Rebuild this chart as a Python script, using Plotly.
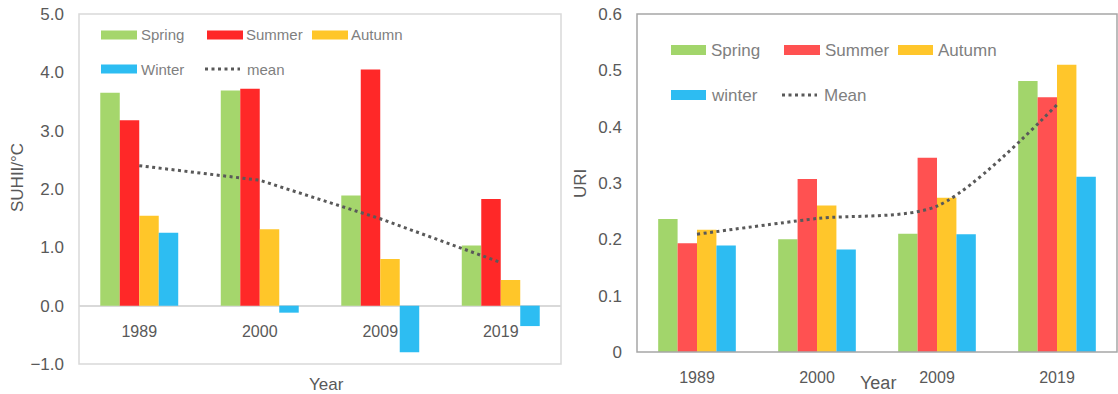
import plotly.graph_objects as go

# ---- data ----
years = ["1989", "2000", "2009", "2019"]

suhii_spring = [3.65, 3.69, 1.89, 1.03]
suhii_summer = [3.18, 3.72, 4.05, 1.83]
suhii_autumn = [1.54, 1.31, 0.80, 0.44]
suhii_winter = [1.25, -0.12, -0.80, -0.35]
suhii_mean = [2.40, 2.15, 1.49, 0.74]

uri_spring = [0.236, 0.200, 0.210, 0.481]
uri_summer = [0.193, 0.307, 0.345, 0.452]
uri_autumn = [0.217, 0.260, 0.274, 0.510]
uri_winter = [0.189, 0.182, 0.209, 0.311]
uri_mean = [0.209, 0.237, 0.259, 0.439]

W, H = 1118, 394
FONT = "Liberation Sans, Arial, sans-serif"
TXT = "#595959"
LEG = "#7f7f7f"
MEAN_C = "#595959"

left_cols = {"Spring": "#A5D66C", "Summer": "#FF2828", "Autumn": "#FFC629", "Winter": "#2DBDF2"}
right_cols = {"Spring": "#A2D56B", "Summer": "#FF5151", "Autumn": "#FFC62B", "winter": "#2DBCF2"}


def px_x(p):
    return p / W


def px_y(p):
    return 1 - p / H


fig = go.Figure()

# left chart: SUHII
for name, vals in zip(["Spring", "Summer", "Autumn", "Winter"],
                      [suhii_spring, suhii_summer, suhii_autumn, suhii_winter]):
    fig.add_trace(go.Bar(x=years, y=vals, name=name, marker_color=left_cols[name],
                         marker_line_width=0, xaxis="x", yaxis="y", showlegend=False))
fig.add_trace(go.Scatter(x=years, y=suhii_mean, name="mean", mode="lines",
                         line=dict(color=MEAN_C, width=3, dash="3px,3.5px"),
                         xaxis="x", yaxis="y", showlegend=False))

# right chart: URI
for name, vals in zip(["Spring", "Summer", "Autumn", "winter"],
                      [uri_spring, uri_summer, uri_autumn, uri_winter]):
    fig.add_trace(go.Bar(x=years, y=vals, name=name, marker_color=right_cols[name],
                         marker_line_width=0, xaxis="x2", yaxis="y2", showlegend=False))
fig.add_trace(go.Scatter(x=years, y=uri_mean, name="Mean", mode="lines",
                         line=dict(color=MEAN_C, width=3, dash="3px,3.5px",
                                   shape="spline", smoothing=0.8),
                         xaxis="x2", yaxis="y2", showlegend=False))

L_X0, L_X1, L_Y0, L_Y1 = 79, 561, 14, 364
R_X0, R_X1, R_Y0, R_Y1 = 637, 1117, 14, 352
zero_pos = px_y(L_Y1 - (0 - (-1)) / 6 * (L_Y1 - L_Y0))

fig.update_layout(
    width=W, height=H, autosize=False,
    margin=dict(l=0, r=0, t=0, b=0, pad=0, autoexpand=False),
    paper_bgcolor="white", plot_bgcolor="white",
    barmode="group", bargap=0.353, bargroupgap=0,
    font=dict(family=FONT, color=TXT, size=16),
    showlegend=False,
    xaxis=dict(domain=[px_x(L_X0), px_x(L_X1)], anchor="free", position=zero_pos,
               showline=False, showgrid=False, ticks="", zeroline=False,
               tickfont=dict(size=16, color=TXT), ticklabelstandoff=14,
               automargin=False, fixedrange=True),
    yaxis=dict(domain=[px_y(L_Y1), px_y(L_Y0)], anchor="x", range=[-1, 5], dtick=1,
               tickformat=".1f", showgrid=False, showline=False, ticks="",
               zeroline=True, zerolinecolor="#D9D9D9", zerolinewidth=1.5,
               tickfont=dict(size=17, color=TXT), ticklabelstandoff=14,
               automargin=False),
    xaxis2=dict(domain=[px_x(R_X0), px_x(R_X1)], anchor="y2",
                showline=False, showgrid=False, ticks="", zeroline=False,
                tickfont=dict(size=16, color=TXT), ticklabelstandoff=14,
                automargin=False),
    yaxis2=dict(domain=[px_y(R_Y1), px_y(R_Y0)], anchor="x2", range=[0, 0.6], dtick=0.1,
                showgrid=False, showline=False, ticks="", zeroline=False,
                tickfont=dict(size=17, color=TXT), ticklabelstandoff=14,
                automargin=False),
)

# plot frames
fig.add_shape(type="rect", xref="x domain", yref="y domain", x0=0, x1=1, y0=0, y1=1,
              line=dict(color="#D9D9D9", width=1.5), layer="below")
fig.add_shape(type="rect", xref="x2 domain", yref="y2 domain", x0=0, x1=1, y0=0, y1=1,
              line=dict(color="#A6A6A6", width=1.5), layer="above")


def title_text(xp, yp, text, size, angle=0):
    fig.add_annotation(x=px_x(xp), y=px_y(yp), xref="paper", yref="paper", text=text,
                       textangle=angle, showarrow=False, xanchor="center",
                       yanchor="middle", font=dict(size=size, color=TXT))


# axis titles
title_text(17, 178, "SUHII/°C", 17, -90)
title_text(327, 384, "Year", 17)
title_text(580, 184, "URI", 17, -90)
title_text(878, 383, "Year", 18)


def legend_patch(x0, yc, w, h, color, label, tx, size):
    fig.add_shape(type="rect", xref="paper", yref="paper",
                  x0=px_x(x0), x1=px_x(x0 + w), y0=px_y(yc + h / 2), y1=px_y(yc - h / 2),
                  fillcolor=color, line=dict(width=0))
    fig.add_annotation(x=px_x(tx), y=px_y(yc), xref="paper", yref="paper", text=label,
                       xanchor="left", yanchor="middle", showarrow=False,
                       font=dict(size=size, color=LEG))


def legend_dots(x0, x1, yc, label, tx, size):
    fig.add_shape(type="line", xref="paper", yref="paper",
                  x0=px_x(x0), x1=px_x(x1), y0=px_y(yc), y1=px_y(yc),
                  line=dict(color=MEAN_C, width=3, dash="3px,3.5px"))
    fig.add_annotation(x=px_x(tx), y=px_y(yc), xref="paper", yref="paper", text=label,
                       xanchor="left", yanchor="middle", showarrow=False,
                       font=dict(size=size, color=LEG))


# left legend
legend_patch(101, 35, 36, 9, left_cols["Spring"], "Spring", 139, 15)
legend_patch(207, 35, 36, 9, left_cols["Summer"], "Summer", 244, 15)
legend_patch(312, 35, 36, 9, left_cols["Autumn"], "Autumn", 349, 15)
legend_patch(101, 69, 36, 9, left_cols["Winter"], "Winter", 139, 15)
legend_dots(205, 240, 69, "mean", 245, 15)

# right legend
legend_patch(671, 50, 35, 10, right_cols["Spring"], "Spring", 709, 17)
legend_patch(784, 50, 36, 10, right_cols["Summer"], "Summer", 823, 17)
legend_patch(898, 50, 35, 10, right_cols["Autumn"], "Autumn", 936, 17)
legend_patch(671, 95, 35, 10, right_cols["winter"], "winter", 709, 17)
legend_dots(782, 817, 95, "Mean", 822, 17)

fig.write_html("out.html")
